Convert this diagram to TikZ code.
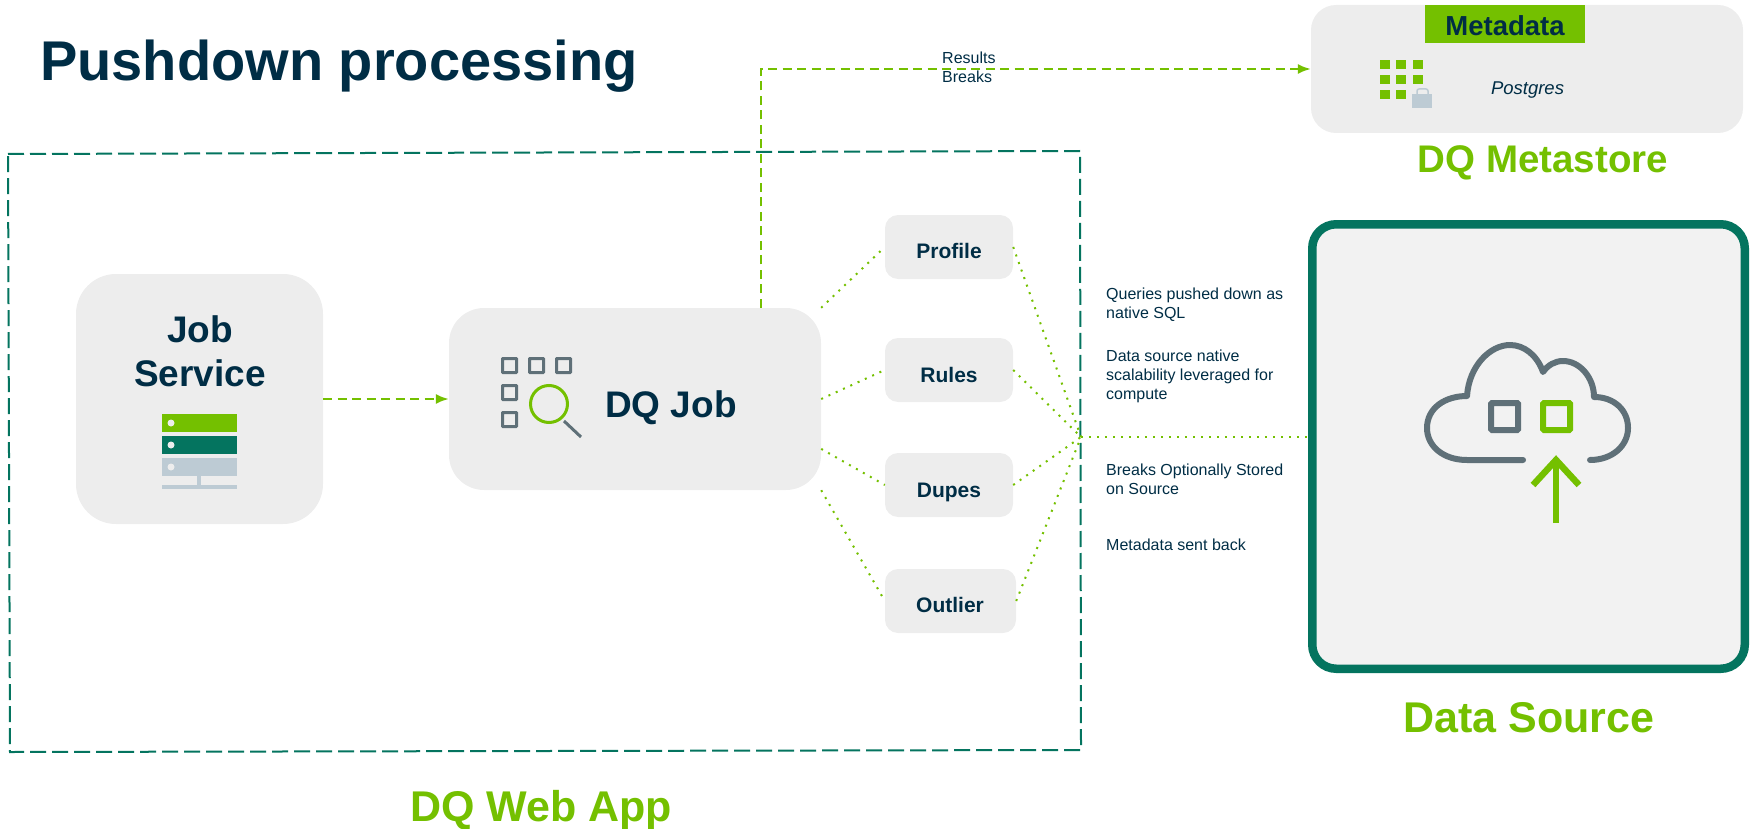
\documentclass[tikz,border=0pt]{standalone}
\usepackage{fontspec}
\setmainfont{Liberation Sans}
\usetikzlibrary{arrows.meta}
\usetikzlibrary{calc}
\usetikzlibrary{positioning}
\definecolor{navy}{HTML}{002D45}
\definecolor{leaf}{HTML}{74C000}
\definecolor{pine}{HTML}{04745F}
\definecolor{slate}{HTML}{5F7078}
\definecolor{mist}{HTML}{BDCBD4}
\definecolor{panel}{HTML}{EDEDED}
\definecolor{panellight}{HTML}{F2F2F2}
\tikzset{
    panelbox/.style={fill=panel, rectangle, inner sep=0pt},
    boldtext/.style={anchor=base, inner sep=0pt, font=\bfseries\fontsize{#1}{#1}\selectfont, text=navy},
    greentext/.style={anchor=base, inner sep=0pt, font=\bfseries\fontsize{#1}{#1}\selectfont, text=leaf},
    notetext/.style={anchor=north west, inner sep=0pt, align=left, font=\fontsize{16}{19}\selectfont, text=navy},
    dashflow/.style={draw=leaf, line width=2pt, dash pattern=on 9pt off 5.5pt, -{Latex[length=13pt,width=10pt]}},
    dotflow/.style={draw=leaf, line width=2pt, dash pattern=on 2pt off 6pt}
}

\begin{document}
\begin{tikzpicture}[x=1pt, y=-1pt]
            \useasboundingbox (0,0) rectangle (1752,829);

            % Title
            \node[boldtext=56, anchor=base west] (title) at (40,80.5) {Pushdown processing};

            % Web app frame
            \draw[pine, line width=2pt, dash pattern=on 16pt off 6pt] (8,154) -- (1080,151) -- (1081,750) -- (10,752) -- cycle;
            \node[greentext=43] (webapplabel) at (541,821) {DQ Web App};

            % Main boxes
            \node[panelbox, rounded corners=40pt, minimum width=247pt, minimum height=250pt] (jobservice) at (199.5,399) {};
            \node[panelbox, rounded corners=35pt, minimum width=372pt, minimum height=182pt] (dqjob) at (635,399) {};
            \node[panelbox, rounded corners=13pt, minimum width=128pt, minimum height=64pt] (profile) at (949,247) {};
            \node[panelbox, rounded corners=13pt, minimum width=128pt, minimum height=64pt] (rules) at (949,370) {};
            \node[panelbox, rounded corners=13pt, minimum width=128pt, minimum height=64pt] (dupes) at (949,485) {};
            \node[panelbox, rounded corners=13pt, minimum width=131pt, minimum height=64pt] (outlier) at (950.5,601) {};
            \node[panelbox, rounded corners=25pt, minimum width=432pt, minimum height=128pt] (metastore) at (1527,69) {};
            \node[rectangle, inner sep=0pt, fill=panellight, draw=pine, line width=8.5pt, rounded corners=24pt, minimum width=432.5pt, minimum height=444.5pt] (datasource) at (1528.5,446.5) {};
            \node[rectangle, inner sep=0pt, fill=leaf, minimum width=160pt, minimum height=38pt] (metadata) at (1505,24) {};

            % Box texts
            \node[boldtext=37] (jobtext) at (200,342) {Job};
            \node[boldtext=37] (servicetext) at (200,386) {Service};
            \node[boldtext=37, anchor=base west] (dqjobtext) at (605,417) {DQ Job};
            \node[boldtext=21] (profiletext) at (949,258) {Profile};
            \node[boldtext=21] (rulestext) at (949,382) {Rules};
            \node[boldtext=21] (dupestext) at (949,497) {Dupes};
            \node[boldtext=21] (outliertext) at (950,612) {Outlier};
            \node[boldtext=27.5] (metadatatext) at (1505,36) {Metadata};
            \node[anchor=base, inner sep=0pt, font=\itshape\fontsize{18.5}{20}\selectfont, text=navy] (postgres) at (1527.5,95) {Postgres};
            \node[greentext=38.5] (metastorelabel) at (1543,173) {DQ Metastore};
            \node[greentext=43] (sourcelabel) at (1529,732) {Data Source};

            % Notes
            \node[notetext] (resultsnote) at (942,51.5) {Results\\Breaks};
            \node[notetext] (queriesnote) at (1106,287.5) {Queries pushed down as\\native SQL};
            \node[notetext] (scalenote) at (1106,349.5) {Data source native\\scalability leveraged for\\compute};
            \node[notetext] (breaksnote) at (1106,463.5) {Breaks Optionally Stored\\on Source};
            \node[notetext] (metanote) at (1106,538.5) {Metadata sent back};

            % Server icon
            \fill[leaf] (162,414) rectangle (237,432);
            \fill[pine] (162,436) rectangle (237,454);
            \fill[mist] (162,458) rectangle (237,476);
            \fill[mist] (197,476) rectangle (201,485);
            \fill[mist] (162,485) rectangle (237,489);
            \foreach \y in {423,445,467} {
                \fill[panel] (171,\y) circle (3.5pt);
            }

            % Search icon
            \foreach \x/\y in {501/357,528/357,555/357,501/384,501/411} {
                \draw[slate, line width=3pt, rounded corners=0.5pt] (\x+1.5,\y+1.5) rectangle (\x+15.5,\y+15.5);
            }
            \draw[slate, line width=3pt] (564,421) -- (581,437);
            \draw[leaf, line width=3pt] (549,404) circle (18.5pt);

            % Postgres grid and lock
            \foreach \x in {1380,1396,1413} {
                \foreach \y in {60,75,90} {
                    \ifnum\x=1413
                        \ifnum\y<90
                            \fill[leaf] (\x,\y) rectangle (\x+10,\y+9);
                        \fi
                    \else
                        \fill[leaf] (\x,\y) rectangle (\x+10,\y+9);
                    \fi
                }
            }
            \fill[mist] (1412,94) rectangle (1432,108);
            \draw[mist, line width=1.5pt, rounded corners=2pt] (1417,94) -- (1417,89) -- (1428,89) -- (1428,94);

            % Cloud icon
            \draw[slate, line width=6pt, line cap=round, line join=round]
                (1523,460) -- (1467,460)
                .. controls (1443,460) and (1427,446) .. (1427,428)
                .. controls (1427,408) and (1445,396) .. (1467,396)
                .. controls (1469,366) and (1490,345) .. (1510,345)
                .. controls (1524,345) and (1537,355) .. (1543,372)
                .. controls (1548,365) and (1555,361) .. (1563,361)
                .. controls (1580,361) and (1594,378) .. (1594,397)
                .. controls (1614,397) and (1628,410) .. (1628,428)
                .. controls (1628,446) and (1612,460) .. (1590,460);
            \draw[slate, line width=6pt, rounded corners=1pt] (1491,403) rectangle (1518,430);
            \draw[leaf, line width=6pt, rounded corners=1pt] (1543,403) rectangle (1570,430);
            \draw[leaf, line width=6.5pt] (1556,523) -- (1556,462);
            \draw[leaf, line width=6.5pt] (1533,485) -- (1556,460) -- (1579,485);

            % Connectors
            \coordinate (hub) at (1081,437);
            \draw[dashflow] (jobservice.east) -- (dqjob.west);
            \draw[dashflow] (dqjob.36.5) |- (metastore.west);
            \draw[dotflow] (dqjob.north east) -- (profile.west);
            \draw[dotflow] (dqjob.east) -- (rules.west);
            \draw[dotflow] (dqjob.-15) -- (dupes.west);
            \draw[dotflow] (dqjob.south east) -- (outlier.west);
            \draw[dotflow] (profile.east) -- (hub);
            \draw[dotflow] (rules.east) -- (hub);
            \draw[dotflow] (dupes.east) -- (hub);
            \draw[dotflow] (outlier.east) -- (hub);
            \draw[dotflow] (hub) -- (hub -| datasource.west);
        \end{tikzpicture}
\end{document}
